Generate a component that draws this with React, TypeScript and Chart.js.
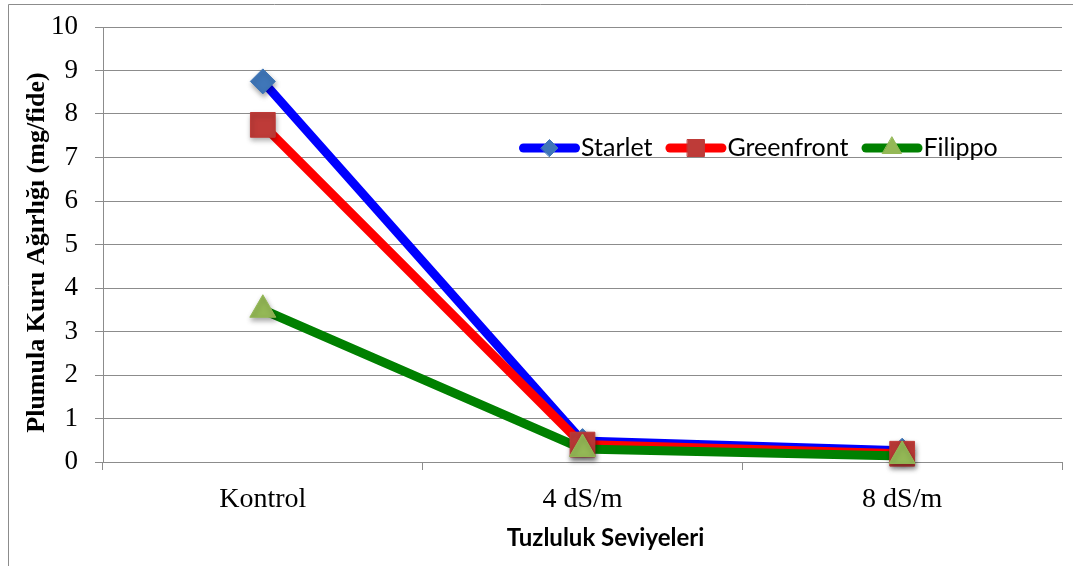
import React, { useEffect, useRef } from "react";
import { Chart, registerables } from "chart.js";
import { drawPoint } from "chart.js/helpers";

Chart.register(...registerables);

// ---- data ----
const categories = ["Kontrol", "4 dS/m", "8 dS/m"];
const seriesNames = ["Starlet", "Greenfront", "Filippo"];
const starlet = [8.75, 0.48, 0.26];
const greenfront = [7.75, 0.4, 0.19];
const filippo = [3.5, 0.3, 0.14];
const yTickLabels = ["0", "1", "2", "3", "4", "5", "6", "7", "8", "9", "10"];
const yTitle = "Plumula Kuru Ağırlığı (mg/fide)";
const xTitle = "Tuzluluk Seviyeleri";

// ---- styles ----
const W = 1073;
const H = 566;
const lineColors = ["#0000FF", "#FF0000", "#008000"];
const markerColors = ["#3F76B8", "#BE3B38", "#94B856"];
const markerStyles = ["rectRot", "rect", "triangle"];
const markerRadii = [12.5, 17.5, 15];
const legendRadii = [8.5, 12, 11];
const gridColor = "#8c8c8c";
const serif = "'Liberation Serif', 'Times New Roman', serif";
const sans = "Lato, 'Open Sans', sans-serif";

const seriesValues = [starlet, greenfront, filippo];

const decorPlugin = {
  id: "decor",
  beforeDraw(chart: any) {
    const ctx = chart.ctx;
    ctx.save();
    ctx.fillStyle = "#ffffff";
    ctx.fillRect(0, 0, W, H);
    ctx.strokeStyle = "#8c8c8c";
    ctx.lineWidth = 1;
    ctx.beginPath();
    ctx.moveTo(8.5, H);
    ctx.lineTo(8.5, 4.5);
    ctx.lineTo(W, 4.5);
    ctx.stroke();
    ctx.restore();
  },
  beforeDatasetDraw(chart: any, args: any) {
    const ds = chart.data.datasets[args.index];
    if (ds.isMarker) {
      const ctx = chart.ctx;
      ctx.save();
      ctx.shadowColor = "rgba(0,0,0,0.35)";
      ctx.shadowBlur = 5;
      ctx.shadowOffsetX = 1;
      ctx.shadowOffsetY = 3;
    }
  },
  afterDatasetDraw(chart: any, args: any) {
    const ds = chart.data.datasets[args.index];
    if (ds.isMarker) chart.ctx.restore();
  },
  afterDraw(chart: any) {
    const ctx = chart.ctx;
    const a = chart.chartArea;
    ctx.save();
    // y title
    ctx.fillStyle = "#000";
    ctx.font = `bold 26px ${serif}`;
    ctx.textAlign = "center";
    ctx.textBaseline = "middle";
    ctx.translate(37, (a.top + a.bottom) / 2 + 8);
    ctx.rotate(-Math.PI / 2);
    ctx.fillText(yTitle, 0, 0);
    ctx.restore();

    // x title
    ctx.save();
    ctx.fillStyle = "#000";
    ctx.font = `bold 24px ${sans}`;
    ctx.textAlign = "center";
    ctx.textBaseline = "middle";
    ctx.fillText(xTitle, (a.left + a.right) / 2 + 23, a.bottom + 76);
    ctx.restore();

    // legend
    ctx.save();
    ctx.font = `25px ${sans}`;
    let x = 519;
    const yc = 148;
    const lineLen = 61;
    seriesNames.forEach((name, i) => {
      ctx.strokeStyle = lineColors[i];
      ctx.lineWidth = 9;
      ctx.lineCap = "round";
      ctx.beginPath();
      ctx.moveTo(x + 4.5, yc);
      ctx.lineTo(x + lineLen - 4.5, yc);
      ctx.stroke();
      ctx.fillStyle = markerColors[i];
      ctx.strokeStyle = markerColors[i];
      ctx.lineWidth = 1;
      drawPoint(
        ctx,
        { pointStyle: markerStyles[i], radius: legendRadii[i], rotation: 0, borderWidth: 1 } as any,
        x + lineLen / 2,
        yc
      );
      ctx.fillStyle = "#000";
      ctx.textAlign = "left";
      ctx.textBaseline = "alphabetic";
      ctx.fillText(name, x + lineLen + 1, 156);
      const tw = ctx.measureText(name).width;
      x = x + lineLen + 1 + tw + 13;
    });
    ctx.restore();
  },
};

export default function App() {
  const ref = useRef<HTMLCanvasElement | null>(null);

  useEffect(() => {
    if (!ref.current) return;
    const lineSets = seriesNames.map((name, i) => ({
      label: name,
      data: seriesValues[i],
      borderColor: lineColors[i],
      backgroundColor: lineColors[i],
      borderWidth: 9,
      borderCapStyle: "round",
      borderJoinStyle: "round",
      pointRadius: 0,
      pointHoverRadius: 0,
      fill: false,
      tension: 0,
      order: 6 - i,
    }));
    const markerSets = seriesNames.map((name, i) => ({
      label: name + " marker",
      data: seriesValues[i],
      showLine: false,
      isMarker: true,
      pointStyle: markerStyles[i],
      pointRadius: markerRadii[i],
      pointHoverRadius: markerRadii[i],
      pointBackgroundColor: markerColors[i],
      pointBorderColor: markerColors[i],
      pointBorderWidth: 1,
      borderColor: markerColors[i],
      backgroundColor: markerColors[i],
      order: 3 - i,
      clip: false,
    }));

    const chart = new Chart(ref.current, {
      type: "line",
      data: {
        labels: categories,
        datasets: [...lineSets, ...markerSets] as any,
      },
      plugins: [decorPlugin],
      options: {
        responsive: false,
        animation: false,
        devicePixelRatio: 1,
        events: [],
        layout: { autoPadding: false, padding: { left: 0, top: 27, right: 11, bottom: 0 } },
        plugins: {
          legend: { display: false },
          tooltip: { enabled: false },
          title: { display: false },
        },
        scales: {
          x: {
            type: "category",
            offset: true,
            grid: {
              offset: true,
              drawOnChartArea: false,
              drawTicks: true,
              tickLength: 8,
              color: gridColor,
            },
            border: { color: gridColor, width: 1 },
            ticks: {
              color: "#000",
              font: { family: serif, size: 28 },
              padding: 13,
              maxRotation: 0,
              autoSkip: false,
            },
            afterFit(scale: any) {
              scale.height = 104;
              scale.paddingLeft = 0;
              scale.paddingRight = 0;
              scale.paddingTop = 0;
              scale.paddingBottom = 0;
            },
          },
          y: {
            min: 0,
            max: 10,
            ticks: {
              stepSize: 1,
              color: "#000",
              font: { family: serif, size: 27 },
              padding: 17,
              callback: (_v: any, idx: number) => yTickLabels[idx],
            },
            grid: { color: gridColor, lineWidth: 1, tickLength: 8, drawTicks: true },
            border: { color: gridColor, width: 1 },
            afterFit(scale: any) {
              scale.width = 103;
              scale.paddingLeft = 0;
              scale.paddingRight = 0;
              scale.paddingTop = 0;
              scale.paddingBottom = 0;
            },
          },
        },
      } as any,
    });
    return () => chart.destroy();
  }, []);

  return (
    <div style={{ position: "fixed", left: 0, top: 0, width: W, height: H, background: "#fff" }}>
      <canvas ref={ref} width={W} height={H} style={{ display: "block", width: W, height: H }} />
    </div>
  );
}
